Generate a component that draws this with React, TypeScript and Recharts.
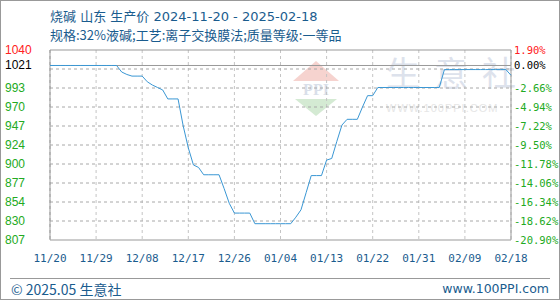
import React from "react";
import {
  LineChart,
  Line,
  XAxis,
  YAxis,
  CartesianGrid,
  ReferenceLine,
} from "recharts";

// 烧碱 山东 生产价, 每日价格 (元/吨), 2024-11-20 起
const START_DATE = "2024-11-20";
const PRICES = [
  1021, 1021, 1021, 1021, 1021, 1021, 1021, 1021, 1021, 1021,
  1021, 1021, 1021, 1021, 1013, 1010, 1008, 1008, 1008, 1001,
  997, 994, 991, 980, 980, 980, 947, 920, 899, 896,
  887, 887, 887, 887, 870, 852, 840, 840, 840, 840,
  827, 827, 827, 827, 827, 827, 827, 827, 835, 844,
  865, 886, 886, 886, 905, 907, 928, 948, 955, 955,
  955, 970, 984, 984, 994, 994, 994, 994, 994, 994,
  994, 994, 994, 994, 994, 994, 994, 1016, 1016, 1016,
  1016, 1016, 1016, 1016, 1016, 1016, 1016, 1016, 1016, 1016,
  1009,
];

const X_TICKS = ["11/20", "11/29", "12/08", "12/17", "12/26", "01/04", "01/13", "01/22", "01/31", "02/09", "02/18"];

const BASE_PRICE = 1021;
const Y_MIN = 807;
const Y_MAX = 1040;
// 网格刻度 (等分10格) + 基准价
const Y_TICKS = [807, 830.3, 853.6, 876.9, 900.2, 923.5, 946.8, 970.1, 993.4, 1016.7, 1021, 1040];
const LEFT_LABELS = ["807", "830", "854", "877", "900", "924", "947", "970", "993", "", "1021", "1040"];
const RIGHT_LABELS = ["-20.90%", "-18.62%", "-16.34%", "-14.06%", "-11.78%", "-9.50%", "-7.22%", "-4.94%", "-2.66%", "", "0.00%", "1.90%"];

const TITLE = "烧碱 山东 生产价 2024-11-20 - 2025-02-18";
const SUBTITLE = "规格:32%液碱;工艺:离子交换膜法;质量等级:一等品";

const BLUE_TEXT = "#1a5c8e";
const GREEN = "#22aa22";
const BORDER = "#999";

function fmtDate(d: Date) {
  const m = String(d.getMonth() + 1).padStart(2, "0");
  const day = String(d.getDate()).padStart(2, "0");
  return `${m}/${day}`;
}

const start = new Date(START_DATE + "T00:00:00");
const data = PRICES.map((price, i) => {
  const d = new Date(start.getTime());
  d.setDate(d.getDate() + i);
  return { date: fmtDate(d), price };
});

const tickColor = (i: number) =>
  i === Y_TICKS.length - 1 ? "#ff2020" : Y_TICKS[i] === BASE_PRICE ? "#000" : GREEN;

// 左侧价格 + 右侧涨跌幅 一起画
const PriceTick = ({ y, index }: any) => {
  if (!LEFT_LABELS[index]) return <g />;
  return (
    <g>
      <text x={5} y={y} dy={4} fontSize={12} fontFamily="Liberation Sans, Arial" fill={tickColor(index)} textAnchor="start">
        {LEFT_LABELS[index]}
      </text>
      <text x={514} y={y} dy={4} fontSize={10.5} fontFamily="DejaVu Sans Mono, monospace" fill={tickColor(index)} textAnchor="start">
        {RIGHT_LABELS[index]}
      </text>
    </g>
  );
};

const BottomTick = ({ x, payload }: any) => (
  <text x={x} y={240} dy={22} fontSize={11} fontFamily="DejaVu Sans Mono, monospace" fill={BLUE_TEXT} textAnchor="middle">
    {payload.value}
  </text>
);

export default function App() {
  const first = data[0].date;
  const last = data[data.length - 1].date;
  return (
    <div
      style={{
        position: "absolute",
        left: 0,
        top: 0,
        width: 560,
        height: 300,
        boxSizing: "border-box",
        border: "1px solid #999",
        background: "#fff",
        fontFamily: "'Noto Sans CJK SC', sans-serif",
        overflow: "hidden",
      }}
    >
      {/* 标题 */}
      <div style={{ position: "absolute", left: 49, top: 5, fontSize: 13, color: BLUE_TEXT, whiteSpace: "nowrap", fontFamily: "'DejaVu Sans', 'Noto Sans CJK SC'" }}>
        {TITLE}
      </div>
      <div style={{ position: "absolute", left: 49, top: 24, fontSize: 13, color: BLUE_TEXT, whiteSpace: "nowrap" }}>
        {SUBTITLE}
      </div>

      {/* 水印 */}
      <svg style={{ position: "absolute", left: 0, top: 0 }} width={560} height={300}>
        <polygon points="315,60 338,80 292,80" fill="#f6d3cf" />
        <text x={315} y={94} fontSize={16} fontWeight="bold" fill="#d9dfea" textAnchor="middle" fontFamily="Liberation Serif">PPI</text>
        <polygon points="294,98 336,98 315,115" fill="#d4ead3" />
        <text x={385} y={85} fontSize={34} fill="#dde2ec" fontFamily="'Noto Sans CJK SC'" letterSpacing={14}>生意社</text>
        <text x={385} y={111} fontSize={11} fill="#e6e6e6" fontFamily="Liberation Sans" letterSpacing={1}>WWW.100PPI.COM</text>
      </svg>

      <div style={{ position: "absolute", left: -1, top: -1 }}>
        <LineChart width={560} height={300} data={data} margin={{ top: 50, right: 49, bottom: 0, left: 0 }}>
          <CartesianGrid horizontal={false} stroke="#c4c4c4" strokeDasharray="3 3" />
          <XAxis
            dataKey="date"
            ticks={X_TICKS}
            interval={0}
            height={60}
            axisLine={false}
            tickLine={false}
            tick={<BottomTick />}
          />
          <YAxis
            width={50}
            domain={[Y_MIN, Y_MAX]}
            ticks={Y_TICKS}
            interval={0}
            axisLine={false}
            tickLine={false}
            tick={<PriceTick />}
          />
          {/* 横向虚线网格 */}
          {Y_TICKS.filter((v) => v !== BASE_PRICE && v !== Y_MIN && v !== Y_MAX).map((v) => (
            <ReferenceLine key={v} y={v} stroke="#a8a8a8" strokeDasharray="3 3" />
          ))}
          {/* 图框 */}
          <ReferenceLine y={Y_MAX} stroke={BORDER} />
          <ReferenceLine y={Y_MIN} stroke={BORDER} />
          <ReferenceLine x={first} stroke={BORDER} />
          <ReferenceLine x={last} stroke={BORDER} />
          <ReferenceLine y={BASE_PRICE} stroke={BORDER} />
          <Line
            type="linear"
            dataKey="price"
            stroke="#3a97d4"
            strokeWidth={1}
            dot={false}
            isAnimationActive={false}
          />
        </LineChart>
      </div>

      {/* 页脚 */}
      <div style={{ position: "absolute", left: 9, right: 9, top: 277, borderTop: "1px solid #999" }} />
      <div style={{ position: "absolute", left: 10, top: 278, fontSize: 14, color: BLUE_TEXT, whiteSpace: "nowrap" }}>
        © 2025.05 生意社
      </div>
      <div style={{ position: "absolute", right: 10, top: 280, fontSize: 12.5, color: BLUE_TEXT, fontFamily: "'DejaVu Sans', Arial", whiteSpace: "nowrap" }}>
        www.100PPI.com
      </div>
    </div>
  );
}
